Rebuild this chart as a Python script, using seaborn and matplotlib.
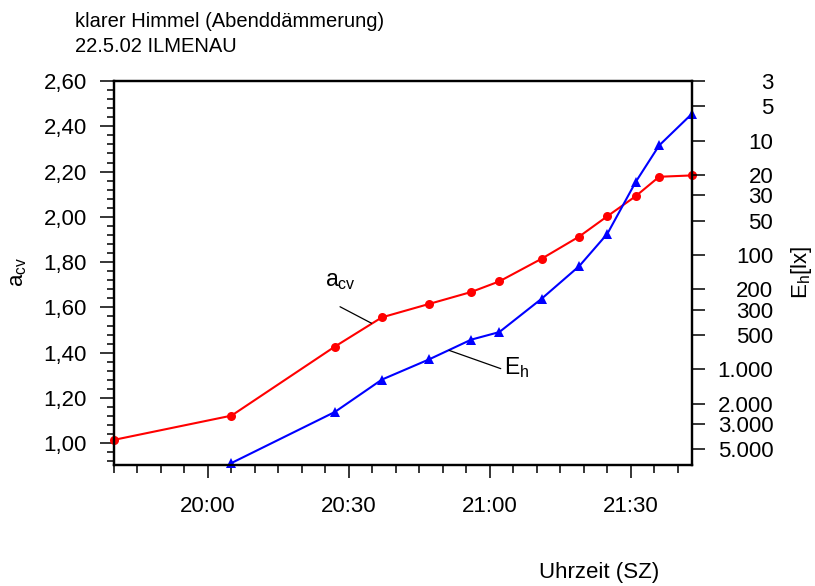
import numpy as np
import pandas as pd
import seaborn as sns
import matplotlib
matplotlib.use("Agg")
import matplotlib.pyplot as plt
from matplotlib.ticker import MultipleLocator, FixedLocator, FuncFormatter, NullLocator

# ---- data ----
times_acv = ["19:40", "20:05", "20:27", "20:37", "20:47", "20:56", "21:02",
             "21:11", "21:19", "21:25", "21:31", "21:36", "21:43"]
acv = [1.015, 1.122, 1.427, 1.556, 1.615, 1.668, 1.715,
       1.815, 1.913, 2.003, 2.091, 2.177, 2.183]
times_eh = ["20:05", "20:27", "20:37", "20:47", "20:56", "21:02",
            "21:11", "21:19", "21:25", "21:31", "21:36", "21:43"]
eh = [6600, 2360, 1230, 820, 550, 472, 241, 125, 65, 23, 11, 5.8]
x_ticks = ["20:00", "20:30", "21:00", "21:30"]
eh_ticks = [3, 5, 10, 20, 30, 50, 100, 200, 300, 500, 1000, 2000, 3000, 5000]
title_lines = ["klarer Himmel (Abenddämmerung)", "22.5.02 ILMENAU"]


def to_min(s):
    h, m = s.split(":")
    return int(h) * 60 + float(m)


df_a = pd.DataFrame({"t": [to_min(s) for s in times_acv], "acv": acv})
df_e = pd.DataFrame({"t": [to_min(s) for s in times_eh], "eh": eh})

sns.set_theme(style="white")
plt.rcParams["font.family"] = ["Liberation Sans", "DejaVu Sans"]
plt.rcParams["mathtext.fontset"] = "custom"
plt.rcParams["mathtext.rm"] = "Liberation Sans"
plt.rcParams["mathtext.it"] = "Liberation Sans:italic"
plt.rcParams["text.color"] = "black"
plt.rcParams["axes.labelcolor"] = "black"
plt.rcParams["xtick.color"] = "black"
plt.rcParams["ytick.color"] = "black"

W, H = 815, 586
fig = plt.figure(figsize=(W / 100, H / 100), dpi=100)
L, R, T, B = 114, 692, 81, 465
ax = fig.add_axes([L / W, 1 - B / H, (R - L) / W, (B - T) / H])
ax2 = ax.twinx()

sns.lineplot(data=df_a, x="t", y="acv", ax=ax, color="#ff0000", lw=1.5,
             marker="o", markersize=6.5, markeredgewidth=0, clip_on=False)
sns.lineplot(data=df_e, x="t", y="eh", ax=ax2, color="#0000ff", lw=1.5,
             marker="^", markersize=6.5, markeredgewidth=0, clip_on=False)

# x axis
ax.set_xlim(to_min("19:40"), to_min("21:43"))
ax.xaxis.set_major_locator(FixedLocator([to_min(s) for s in x_ticks]))
ax.xaxis.set_major_formatter(FuncFormatter(lambda v, p: f"{int(v)//60:02d}:{int(v)%60:02d}"))
ax.xaxis.set_minor_locator(MultipleLocator(5))

# left y axis
ax.set_ylim(0.904, 2.60)
ax.yaxis.set_major_locator(MultipleLocator(0.2))
ax.yaxis.set_minor_locator(MultipleLocator(0.04))
ax.yaxis.set_major_formatter(FuncFormatter(lambda v, p: f"{v:.2f}".replace(".", ",")))

# right y axis (log, inverted)
ax2.set_yscale("log")
ax2.set_ylim(6870, 3)
ax2.yaxis.set_major_locator(FixedLocator(eh_ticks))
ax2.yaxis.set_minor_locator(NullLocator())
ax2.yaxis.set_major_formatter(FuncFormatter(lambda v, p: f"{int(round(v)):,}".replace(",", ".")))

ax.set_xlabel("")
ax.set_ylabel("")
ax2.set_ylabel("")

for a in (ax, ax2):
    for s in a.spines.values():
        s.set_linewidth(1.6)
        s.set_color("black")

ax.tick_params(axis="x", which="major", direction="out", length=9.5, width=1.1,
               labelsize=16, pad=13, bottom=True)
ax.tick_params(axis="x", which="minor", direction="out", length=5.5, width=1.1, bottom=True)
ax.tick_params(axis="y", which="major", direction="out", length=10, width=1.1,
               labelsize=16, pad=9.4, left=True)
ax.tick_params(axis="y", which="minor", direction="out", length=5, width=1.1, left=True)
ax2.tick_params(axis="y", which="major", direction="out", length=9.5, width=1.1,
                labelsize=16, pad=49, right=True)
for lab in ax2.get_yticklabels():
    lab.set_horizontalalignment("right")

# annotations (leader lines + labels)
ax.annotate("", xy=(to_min("20:34.8"), 1.530), xytext=(to_min("20:28.1"), 1.603),
            arrowprops=dict(arrowstyle="-", color="black", lw=0.9, shrinkA=0, shrinkB=0))
ax.text(to_min("20:24.8"), 1.692, r"a$_\mathregular{cv}$", fontsize=16.5,
        ha="left", va="baseline")
ax2.annotate("", xy=(to_min("20:51.3"), 682), xytext=(to_min("21:02.3"), 986),
             arrowprops=dict(arrowstyle="-", color="black", lw=0.9, shrinkA=0, shrinkB=0))
ax2.text(to_min("21:02.9"), 1090, r"E$_\mathregular{h}$", fontsize=16.5,
         ha="left", va="baseline")

# axis labels and title
fig.text(23.3 / W, 1 - 272 / H, r"a$_\mathregular{cv}$", fontsize=16, rotation=90,
         rotation_mode="anchor", ha="center", va="baseline")
fig.text(807 / W, 1 - 272 / H, r"E$_\mathregular{h}$[lx]", fontsize=16, rotation=90,
         rotation_mode="anchor", ha="center", va="baseline")
fig.text(539 / W, 1 - 578 / H, "Uhrzeit (SZ)", fontsize=16, ha="left", va="baseline")
fig.text(75 / W, 1 - 26.7 / H, title_lines[0], fontsize=14.5, ha="left", va="baseline")
fig.text(75 / W, 1 - 52.3 / H, title_lines[1], fontsize=14.5, ha="left", va="baseline")

fig.savefig("out.png", dpi=100, facecolor="white")
